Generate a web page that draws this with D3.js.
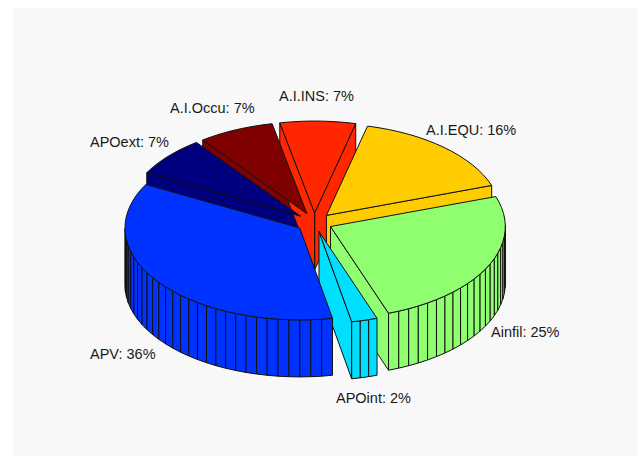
<!DOCTYPE html>
<html>
<head>
<meta charset="utf-8">
<script src="https://cdn.jsdelivr.net/npm/d3@7"></script>
<style>
  html, body { margin: 0; padding: 0; background: #fff; }
  svg { display: block; }
  text { font-family: "Liberation Sans", Arial, sans-serif; font-size: 14.5px; fill: #1a1a1a; }
</style>
</head>
<body>
<svg id="chart"></svg>
<script>
// slices in drawing order round the pie, counter clockwise
const names = ['APV', 'APOint', 'Ainfil', 'A.I.EQU', 'A.I.INS', 'A.I.Occu', 'APOext'];
const values = [36, 2.4, 25, 16, 7, 7, 7];
const percents = ['36%', '2%', '25%', '16%', '7%', '7%', '7%'];
const colors = ['#0033ff', '#00dfff', '#8fff70', '#ffcc00', '#ff2600', '#7f0000', '#00007f'];

// back to front, so nearer wedges paint over further ones
const paintOrder = [5, 6, 4, 3, 2, 1, 0];

const width = 643, height = 456;
const explode = 0.103;
const startDeg = 151.7;

const svg = d3.select('#chart').attr('width', width).attr('height', height);

svg.append('rect')
    .attr('x', 13).attr('y', 8)
    .attr('width', 624).attr('height', 448)
    .attr('fill', '#f8f8f8');

// unit pie coordinates to pixels
const xScale = d3.scaleLinear().domain([-1, 1]).range([139.5, 489.1]);
const yScale = d3.scaleLinear().domain([-1, 1]).range([314.3, 130.5]);
const zScale = d3.scaleLinear().domain([0, 1]).range([57, 0]);

const pie = d3.pie().sort(null)
    .startAngle(startDeg * Math.PI / 180)
    .endAngle((startDeg + 360) * Math.PI / 180);
const arcs = pie(values);
const total = d3.sum(values);

const line = d3.line().x(d => d[0]).y(d => d[1]);

function project(px, py, z) {
    return [xScale(px), yScale(py) + zScale(z)];
}

const wedges = arcs.map((a, i) => {
    const mid = (a.startAngle + a.endAngle) / 2;
    const ox = explode * Math.cos(mid), oy = explode * Math.sin(mid);
    // one facet for each started percent, as the original does
    const n = Math.ceil(values[i] / total * 100);
    const rim = d3.range(n + 1).map(k => {
        const t = a.startAngle + (a.endAngle - a.startAngle) * k / n;
        return { t, x: ox + Math.cos(t), y: oy + Math.sin(t) };
    });
    return { i, ox, oy, rim };
});

const g = svg.append('g')
    .attr('stroke', '#111')
    .attr('stroke-width', 1)
    .attr('stroke-linejoin', 'round');

// walls first, all tops last: the top plane is nearest the eye everywhere
paintOrder.forEach(i => {
    const w = wedges[i];
    const wg = g.append('g').attr('fill', colors[i]);
    const first = w.rim[0], last = w.rim[w.rim.length - 1];

    // the two cut walls, only when they face the viewer
    [[first, -Math.PI / 2], [last, Math.PI / 2]].forEach(([p, turn]) => {
        if (Math.sin(p.t + turn) >= 0) return;
        wg.append('path').attr('d', line([
            project(w.ox, w.oy, 1), project(p.x, p.y, 1),
            project(p.x, p.y, 0), project(w.ox, w.oy, 0)
        ]) + 'Z');
    });

    // outer wall, front facing facets only
    d3.pairs(w.rim).forEach(([p, q]) => {
        if (Math.sin((p.t + q.t) / 2) > 0.02) return;
        wg.append('path').attr('d', line([
            project(p.x, p.y, 1), project(q.x, q.y, 1),
            project(q.x, q.y, 0), project(p.x, p.y, 0)
        ]) + 'Z');
    });
});

paintOrder.forEach(i => {
    const w = wedges[i];
    const top = [project(w.ox, w.oy, 1)].concat(w.rim.map(p => project(p.x, p.y, 1)));
    g.append('path').attr('fill', colors[i]).attr('d', line(top) + 'Z');
});

// label anchor points
const labelX = [90, 336, 491, 426, 279, 170, 90];
const labelY = [359, 403, 337, 135, 101, 113, 147];

svg.selectAll('text.label')
    .data(names)
  .join('text')
    .attr('class', 'label')
    .attr('x', (d, i) => labelX[i])
    .attr('y', (d, i) => labelY[i])
    .text((d, i) => `${d}: ${percents[i]}`);
</script>
</body>
</html>
